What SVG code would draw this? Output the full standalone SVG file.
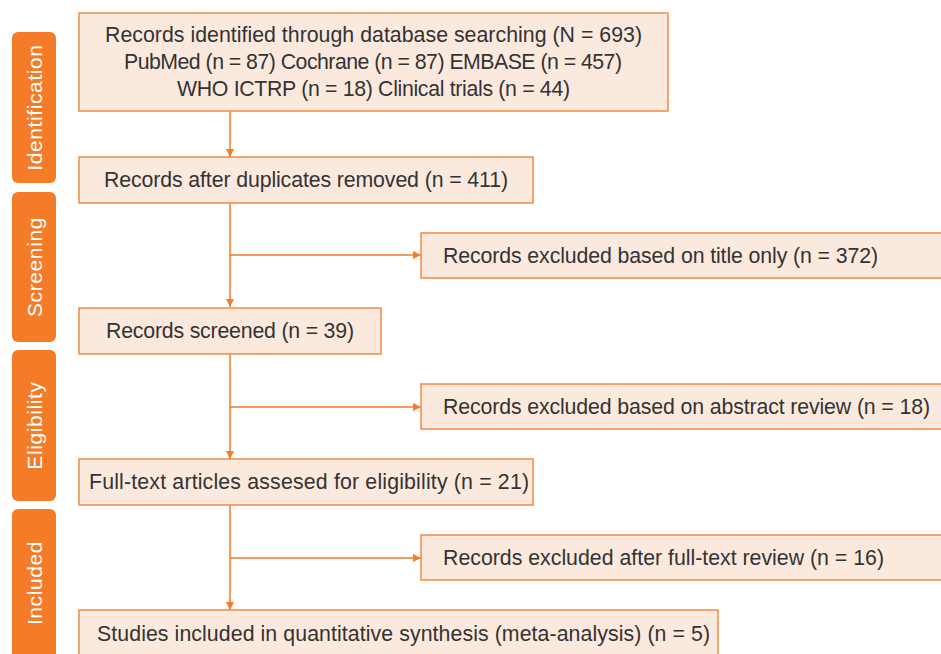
<svg xmlns="http://www.w3.org/2000/svg" width="941" height="654" viewBox="0 0 941 654">
<style>
.box{fill:#FCE9DE;stroke:#F08A45;stroke-width:1.5}
.side{fill:#F47B27}
.t{font-family:"Liberation Sans",Arial,sans-serif;font-size:21.3px;fill:#333333}
.s{font-family:"Liberation Sans",Arial,sans-serif;font-size:21px;letter-spacing:0.6px;fill:#ffffff}
.c{stroke:#F47B27;stroke-width:1.5;fill:none}
</style>
<defs>
<marker id="ah" viewBox="0 0 10 10" refX="10" refY="5" markerWidth="8" markerHeight="8" markerUnits="userSpaceOnUse" orient="auto">
<path d="M0,0 L10,5 L0,10 Z" fill="#F47B27"/>
</marker>
</defs>
<rect width="941" height="654" fill="#ffffff"/>
<g id="stage-identification"><rect class="side" x="12" y="32" width="44" height="151" rx="6"/><text class="s" transform="translate(42,107.5) rotate(-90)" text-anchor="middle">Identification</text></g>
<g id="stage-screening"><rect class="side" x="12" y="192" width="44" height="150" rx="6"/><text class="s" transform="translate(42,267) rotate(-90)" text-anchor="middle">Screening</text></g>
<g id="stage-eligibility"><rect class="side" x="12" y="350" width="44" height="151" rx="6"/><text class="s" transform="translate(42,425.5) rotate(-90)" text-anchor="middle">Eligibility</text></g>
<g id="stage-included"><rect class="side" x="12" y="509" width="44" height="160" rx="6"/><text class="s" transform="translate(42,583) rotate(-90)" text-anchor="middle">Included</text></g>
<g id="connectors">
<line class="c" x1="230" y1="111" x2="230" y2="157" marker-end="url(#ah)"/>
<line class="c" x1="230" y1="203" x2="230" y2="307" marker-end="url(#ah)"/>
<line class="c" x1="230" y1="255" x2="421" y2="255" marker-end="url(#ah)"/>
<line class="c" x1="230" y1="354" x2="230" y2="459" marker-end="url(#ah)"/>
<line class="c" x1="230" y1="407" x2="421" y2="407" marker-end="url(#ah)"/>
<line class="c" x1="230" y1="505" x2="230" y2="610" marker-end="url(#ah)"/>
<line class="c" x1="230" y1="558" x2="421" y2="558" marker-end="url(#ah)"/>
</g>
<g id="records-identified"><rect class="box" x="79" y="13" width="589" height="98"/>
<text class="t" x="105" y="42" textLength="537">Records identified through database searching (N = 693)</text>
<text class="t" x="124" y="69" textLength="498">PubMed (n = 87) Cochrane (n = 87) EMBASE (n = 457)</text>
<text class="t" x="177" y="96" textLength="393">WHO ICTRP (n = 18) Clinical trials (n = 44)</text></g>
<g id="duplicates-removed"><rect class="box" x="79" y="157" width="454" height="46"/><text class="t" x="104" y="187" textLength="404">Records after duplicates removed (n = 411)</text></g>
<g id="excluded-title"><rect class="box" x="421" y="233" width="530" height="45"/><text class="t" x="443" y="263" textLength="435">Records excluded based on title only (n = 372)</text></g>
<g id="records-screened"><rect class="box" x="79" y="308" width="302" height="46"/><text class="t" x="106" y="338" textLength="248">Records screened (n = 39)</text></g>
<g id="excluded-abstract"><rect class="box" x="421" y="384" width="530" height="45"/><text class="t" x="443" y="414" textLength="487">Records excluded based on abstract review (n = 18)</text></g>
<g id="full-text"><rect class="box" x="79" y="459" width="454" height="46"/><text class="t" x="89" y="489" textLength="440">Full-text articles assesed for eligibility (n = 21)</text></g>
<g id="excluded-fulltext"><rect class="box" x="421" y="535" width="530" height="45"/><text class="t" x="443" y="565" textLength="441">Records excluded after full-text review (n = 16)</text></g>
<g id="studies-included"><rect class="box" x="79" y="610" width="639" height="60"/><text class="t" x="97" y="641" textLength="613">Studies included in quantitative synthesis (meta-analysis) (n = 5)</text></g>
</svg>
